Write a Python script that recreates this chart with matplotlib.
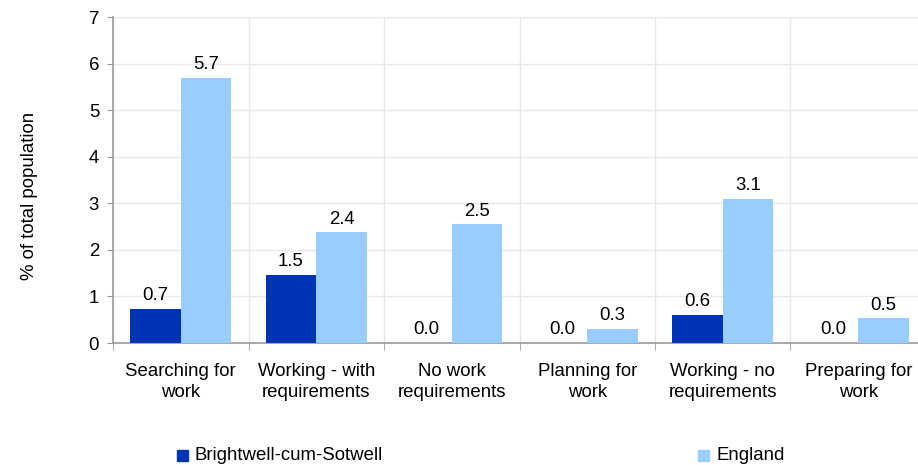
import matplotlib
matplotlib.use("Agg")
import matplotlib.pyplot as plt
import numpy as np

plt.rcParams['font.family'] = ['Liberation Sans', 'DejaVu Sans']

categories = ["Searching for\nwork", "Working - with\nrequirements", "No work\nrequirements",
              "Planning for\nwork", "Working - no\nrequirements", "Preparing for\nwork"]
brightwell = [0.73, 1.46, 0.0, 0.0, 0.6, 0.0]
england = [5.7, 2.38, 2.55, 0.3, 3.1, 0.53]
brightwell_labels = ["0.7", "1.5", "0.0", "0.0", "0.6", "0.0"]
england_labels = ["5.7", "2.4", "2.5", "0.3", "3.1", "0.5"]
series_names = ["Brightwell-cum-Sotwell", "England"]
colors = ["#0033B5", "#99CCFF"]

FS = 13.4

fig = plt.figure(figsize=(9.18, 4.65), dpi=100)
ax = fig.add_axes([113/918, 1-343/465, 813/918, 326/465])

x = np.arange(len(categories))
w = 0.373
b1 = ax.bar(x - w/2, brightwell, w, color=colors[0], zorder=3)
b2 = ax.bar(x + w/2, england, w, color=colors[1], zorder=3)
for rect, lab in zip(b1, brightwell_labels):
    ax.text(rect.get_x() + rect.get_width()/2, rect.get_height() + 0.1, lab,
            ha='center', va='bottom', fontsize=FS)
for rect, lab in zip(b2, england_labels):
    ax.text(rect.get_x() + rect.get_width()/2, rect.get_height() + 0.1, lab,
            ha='center', va='bottom', fontsize=FS)

ax.set_xlim(-0.5, len(categories) - 0.5)
ax.set_ylim(0, 7)
ax.set_yticks(range(0, 8))
ax.tick_params(axis='y', labelsize=FS, length=4, color='#999999', pad=6)
ax.set_xticks(x)
ax.set_xticklabels(categories, fontsize=FS, linespacing=1.3)
ax.tick_params(axis='x', length=0, pad=14.5)
ax.set_xticks(np.arange(-0.5, len(categories), 1), minor=True)
ax.tick_params(axis='x', which='minor', length=5, color='#999999')

ax.grid(True, axis='y', color='#E8E8E8', linewidth=1, zorder=0)
ax.grid(True, axis='x', which='minor', color='#E8E8E8', linewidth=1, zorder=0)
for s in ['top', 'right']:
    ax.spines[s].set_visible(False)
for s in ['left', 'bottom']:
    ax.spines[s].set_color('#999999')
    ax.spines[s].set_linewidth(1.2)

fig.text(30/918, 1-196/465, "% of total population", rotation=90, ha='center', va='center', fontsize=FS)

# legend
fig.patches.append(plt.Rectangle((177/918, 1-461/465), 11/918, 11/465, color=colors[0], transform=fig.transFigure, figure=fig))
fig.text(195/918, 1-455.5/465, series_names[0], ha='left', va='center', fontsize=FS)
fig.patches.append(plt.Rectangle((698/918, 1-461/465), 11/918, 11/465, color=colors[1], transform=fig.transFigure, figure=fig))
fig.text(716/918, 1-455.5/465, series_names[1], ha='left', va='center', fontsize=FS)

fig.savefig("out.png", dpi=100)
